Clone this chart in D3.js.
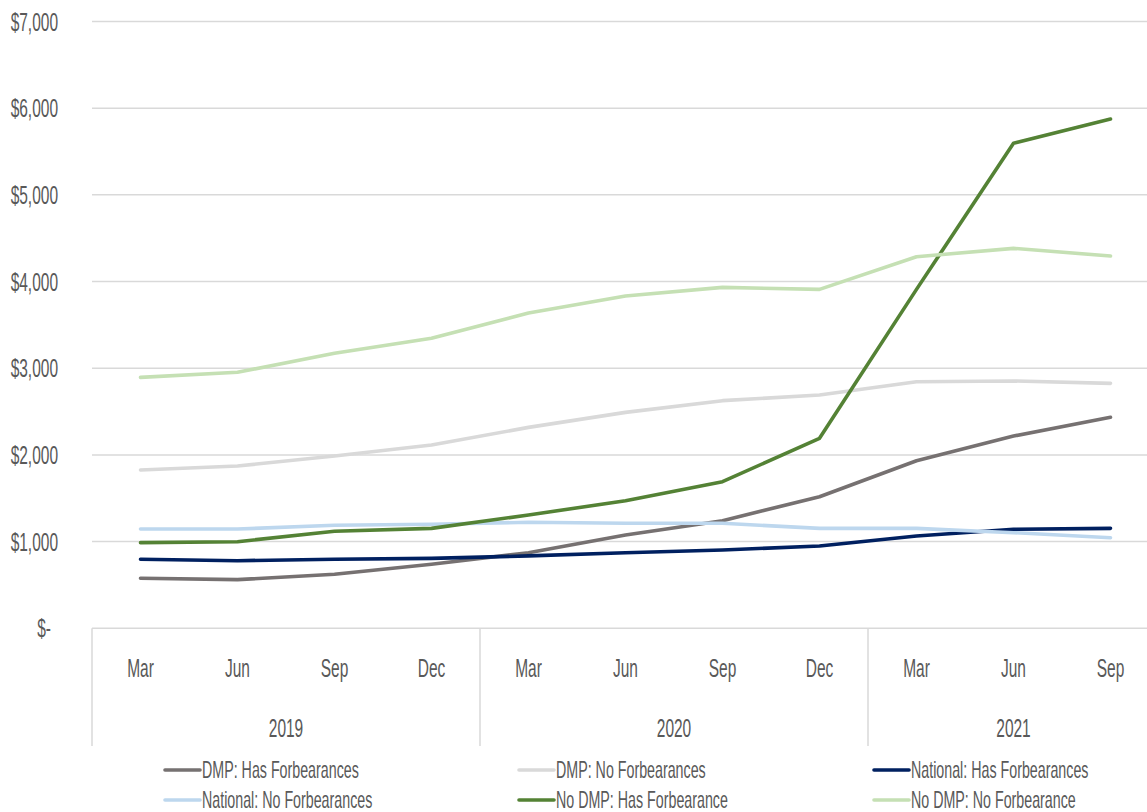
<!DOCTYPE html>
<html>
<head>
<meta charset="utf-8">
<script src="https://cdn.jsdelivr.net/npm/d3@7"></script>
<style>
  html, body { margin: 0; padding: 0; background: #fff; }
  svg text { font-family: "Liberation Sans", Arial, sans-serif; fill: #595959; }
</style>
</head>
<body>
<svg id="chart" width="1147" height="812"></svg>
<script>
// Quarter categories, grouped by year
const quarters = ["Mar", "Jun", "Sep", "Dec", "Mar", "Jun", "Sep", "Dec", "Mar", "Jun", "Sep"];
const years = ["2019", "2020", "2021"];
const quartersPerYear = [4, 4, 3];

// Y ticks
const yTicks = [0, 1000, 2000, 3000, 4000, 5000, 6000, 7000];

// Series values (dollars)
const dmpHas      = [577, 561, 623, 738, 872, 1076, 1241, 1518, 1933, 2218, 2434];
const dmpNo       = [1826, 1872, 1988, 2114, 2318, 2491, 2626, 2691, 2845, 2853, 2826];
const nationalHas = [796, 780, 796, 807, 835, 872, 903, 949, 1065, 1142, 1153];
const nationalNo  = [1145, 1145, 1188, 1200, 1223, 1211, 1211, 1153, 1153, 1103, 1045];
const noDmpHas    = [988, 999, 1119, 1153, 1307, 1472, 1691, 2192, 3910, 5595, 5875];
const noDmpNo     = [2895, 2953, 3172, 3345, 3637, 3833, 3933, 3910, 4287, 4383, 4295];

const seriesNames = [
  "DMP: Has Forbearances", "DMP: No Forbearances", "National: Has Forbearances",
  "National: No Forbearances", "No DMP: Has Forbearance", "No DMP: No Forbearance"
];
const seriesColors = ["#767171", "#D9D9D9", "#002060", "#BDD7EE", "#548235", "#C5E0B4"];
const seriesValues = [dmpHas, dmpNo, nationalHas, nationalNo, noDmpHas, noDmpNo];

const svg = d3.select("#chart");
const plotLeft = 92, plotRight = 1159, plotTop = 21.5, plotBottom = 628.3;
const squeeze = 0.62;   // horizontal compression for the condensed lettering

const x = d3.scaleBand().domain(d3.range(quarters.length)).range([plotLeft, plotRight]).padding(0);
const y = d3.scaleLinear().domain([0, 7000]).range([plotBottom, plotTop]);

const fmt = v => v === 0 ? "$-" : "$" + d3.format(",")(v);

// Places a condensed text label at (px, py)
function label(sel, px, py, size, anchor) {
  return sel
    .attr("transform", (d, i) => `translate(${px(d, i)},${py(d, i)}) scale(${squeeze},1)`)
    .attr("x", 0).attr("y", 0)
    .attr("dy", "0.36em")
    .attr("text-anchor", anchor)
    .attr("font-size", size);
}

// Gridlines
svg.append("g").selectAll("line").data(yTicks).join("line")
  .attr("x1", plotLeft).attr("x2", 1147)
  .attr("y1", d => y(d)).attr("y2", d => y(d))
  .attr("stroke", "#D9D9D9").attr("stroke-width", 1.5);

// Y axis labels
label(svg.append("g").selectAll("text").data(yTicks).join("text"),
  d => d === 0 ? 51 : 58, d => y(d), 25, "end")
  .text(fmt);

// Category axis: group separators
const boundaries = [0];
quartersPerYear.forEach((n, i) => boundaries.push(boundaries[i] + n));
svg.append("g").selectAll("line").data(boundaries.slice(0, -1)).join("line")
  .attr("x1", d => x(d)).attr("x2", d => x(d))
  .attr("y1", plotBottom).attr("y2", 746)
  .attr("stroke", "#D9D9D9").attr("stroke-width", 1.5);

// Quarter labels
label(svg.append("g").selectAll("text").data(quarters).join("text"),
  (d, i) => x(i) + x.bandwidth() / 2, () => 668, 25, "middle")
  .text(d => d);

// Year labels
label(svg.append("g").selectAll("text").data(years).join("text"),
  (d, i) => (x(boundaries[i]) + x(boundaries[i + 1] - 1) + x.bandwidth()) / 2, () => 728, 25, "middle")
  .text(d => d);

// Lines
const line = d3.line()
  .x((d, i) => x(i) + x.bandwidth() / 2)
  .y(d => y(d));

svg.append("g").selectAll("path").data(seriesValues).join("path")
  .attr("d", d => line(d))
  .attr("fill", "none")
  .attr("stroke", (d, i) => seriesColors[i])
  .attr("stroke-width", 3.6)
  .attr("stroke-linejoin", "round")
  .attr("stroke-linecap", "round");

// Legend: 3 columns x 2 rows
const legendCols = [165, 519, 874];
const legendRows = [770, 800];
const legend = svg.append("g").selectAll("g").data(seriesNames).join("g")
  .attr("transform", (d, i) => `translate(${legendCols[i % 3]},${legendRows[Math.floor(i / 3)]})`);
legend.append("line")
  .attr("x1", 0).attr("x2", 35).attr("y1", 0).attr("y2", 0)
  .attr("stroke", (d, i) => seriesColors[i]).attr("stroke-width", 3.6)
  .attr("stroke-linecap", "round");
label(legend.append("text"), () => 37, () => 0, 23, "start")
  .text(d => d);
</script>
</body>
</html>
